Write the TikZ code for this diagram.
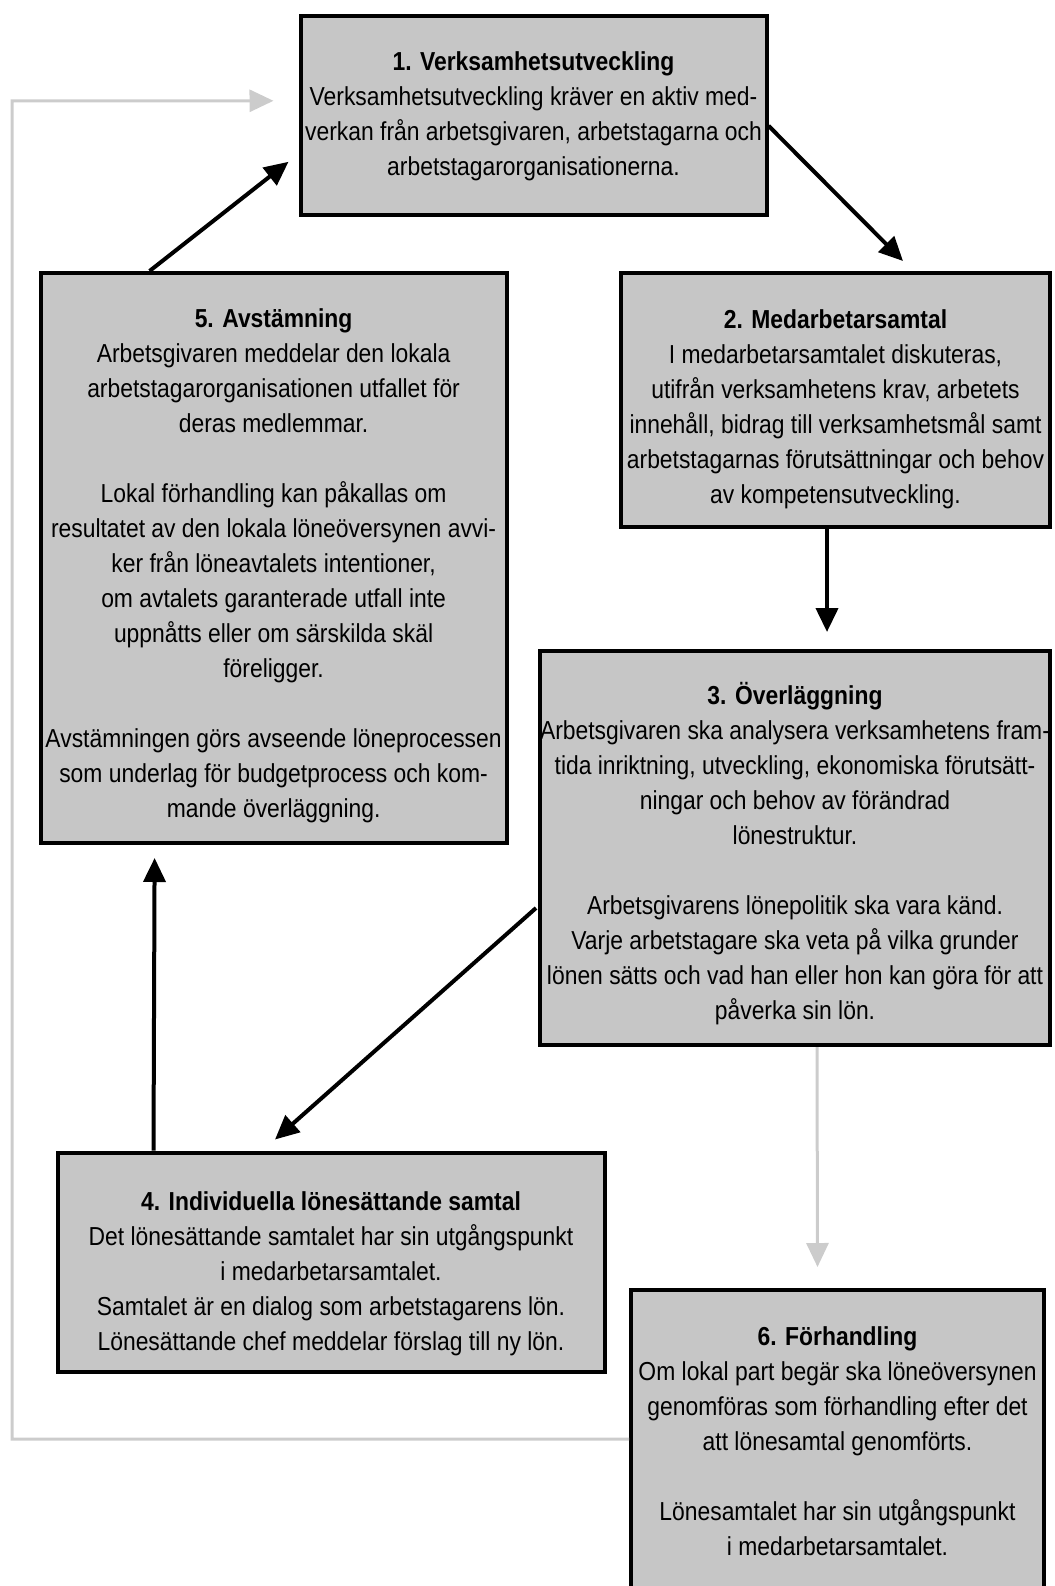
\documentclass[tikz,border=0pt]{standalone}
\usepackage{fontspec}
\setmainfont{Liberation Sans}[FakeStretch=0.88]
\usetikzlibrary{arrows.meta,calc}
\definecolor{boxgray}{RGB}{198,198,198}
\definecolor{loopgray}{RGB}{204,204,204}
\tikzstyle{stage} = [draw=black, line width=4pt, fill=boxgray, align=center, inner sep=0pt, font={\fontsize{26}{35}\selectfont}]
\tikzstyle{flow} = [line width=4pt, -{Triangle[length=24pt,width=22pt]}]
\tikzstyle{back} = [flow, draw=loopgray, line width=3pt]

\begin{document}
\begin{tikzpicture}[x=1pt,y=-1pt]
    \useasboundingbox (0,0) rectangle (1054,1586);
    \node[stage,minimum width=466pt,minimum height=199pt](b1) at (533.5,115.8){\textbf{1. Verksamhetsutveckling}\\Verksamhetsutveckling kräver en aktiv med-\\verkan från arbetsgivaren, arbetstagarna och\\arbetstagarorganisationerna.};
    \node[stage,minimum width=429pt,minimum height=254pt](b2) at (835.5,400){\rule{0pt}{37pt}\textbf{2. Medarbetarsamtal}\\I medarbetarsamtalet diskuteras,\\utifrån verksamhetens krav, arbetets\\innehåll, bidrag till verksamhetsmål samt\\arbetstagarnas förutsättningar och behov\\av kompetensutveckling.};
    \node[stage,minimum width=510pt,minimum height=394pt](b3) at (795,848){\rule{0pt}{34pt}\textbf{3. Överläggning}\\Arbetsgivaren ska analysera verksamhetens fram-\\tida inriktning, utveckling, ekonomiska förutsätt-\\ningar och behov av förändrad\\lönestruktur.\\[35pt]Arbetsgivarens lönepolitik ska vara känd.\\Varje arbetstagare ska veta på vilka grunder\\lönen sätts och vad han eller hon kan göra för att\\påverka sin lön.};
    \node[stage,minimum width=547pt,minimum height=219pt](b4) at (331,1262){\rule{0pt}{43pt}\textbf{4. Individuella lönesättande samtal}\\Det lönesättande samtalet har sin utgångspunkt\\i medarbetarsamtalet.\\Samtalet är en dialog som arbetstagarens lön.\\Lönesättande chef meddelar förslag till ny lön.};
    \node[stage,minimum width=466pt,minimum height=570pt](b5) at (273.6,558){\rule{0pt}{35pt}\textbf{5. Avstämning}\\Arbetsgivaren meddelar den lokala\\arbetstagarorganisationen utfallet för\\deras medlemmar.\\[35pt]Lokal förhandling kan påkallas om\\resultatet av den lokala löneöversynen avvi-\\ker från löneavtalets intentioner,\\om avtalets garanterade utfall inte\\uppnåtts eller om särskilda skäl\\föreligger.\\[35pt]Avstämningen görs avseende löneprocessen\\som underlag för budgetprocess och kom-\\mande överläggning.};
    \node[stage,minimum width=413pt,minimum height=302pt](b6) at (837.5,1441){\textbf{6. Förhandling}\\Om lokal part begär ska löneöversynen\\genomföras som förhandling efter det\\att lönesamtal genomförts.\\[35pt]Lönesamtalet har sin utgångspunkt\\i medarbetarsamtalet.};
    \coordinate (turn) at (12,101);
    \draw[flow]($(b5.north west)+(111,0)$)--($(b1.west)+(-10,46)$);
    \draw[flow]($(b1.east)+(0,10)$)--($(b2.north west)+(284,-10)$);
    \draw[flow]($(b2.south)+(-8.5,0)$)--($(b3.north)+(32,-17)$);
    \draw[flow]($(b3.west)+(-2,60)$)--($(b4.north)+(-56,-11)$);
    \draw[flow]($(b4.north west)+(98,0)$)--($(b5.south west)+(116,13)$);
    \draw[back]($(b3.south)+(22,0)$)--($(b6.north)+(-20,-21)$);
    \draw[back]($(b6.west)+(0,-2)$)-|(turn)--($(b1.west)+(-25,-15)$);
  \end{tikzpicture}
\end{document}
